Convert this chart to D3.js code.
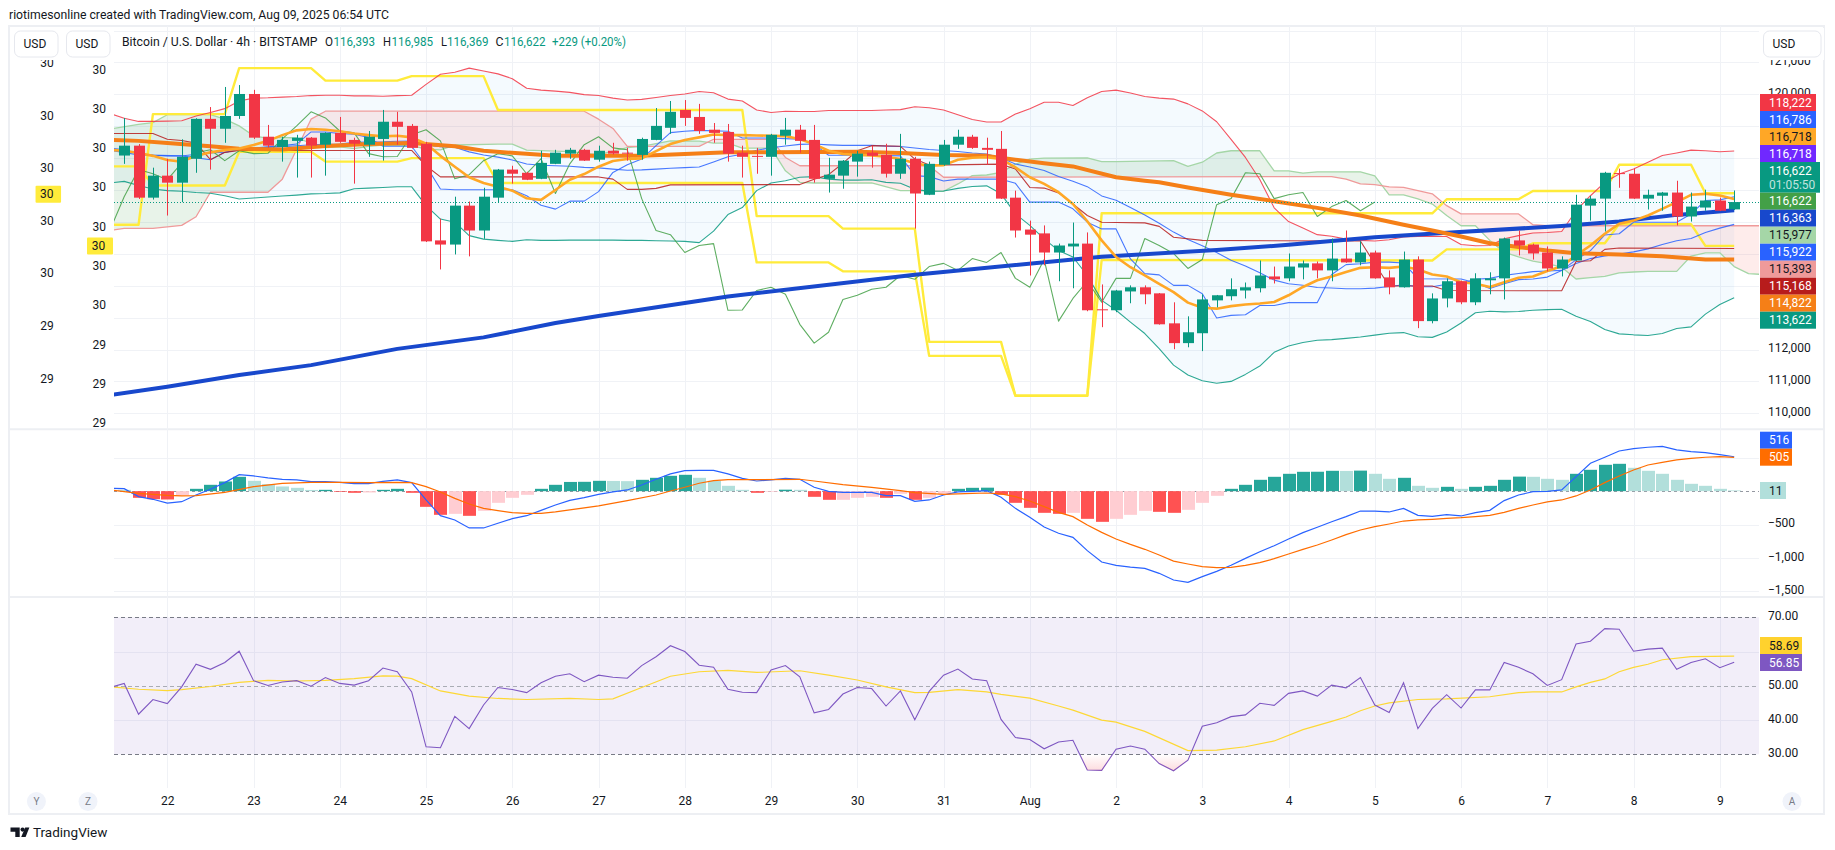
<!DOCTYPE html>
<html>
<head>
<meta charset="utf-8">
<title>Bitcoin / U.S. Dollar 4h</title>
<script src="https://cdn.jsdelivr.net/npm/d3@7"></script>
<style>
  html, body { margin: 0; padding: 0; background: #fff; }
  svg { display: block; }
  text { font-family: "Roboto", "Noto Sans", sans-serif; fill: #131722; }
</style>
</head>
<body>
<div id="chart"></div>
<script>
// ---------- Price candles, one entry per 4h bar (21 Jul 12:00 to 9 Aug 04:00) ----------
const opens = [118080,118390,116760,117450,117230,117980,119230,118920,119320,120010,118670,118350,118540,118640,118420,118790,118570,118420,118600,119140,119010,118450,115420,115290,116510,115730,116760,117640,117540,117350,117820,118140,118260,117950,118230,118170,118100,118570,118950,119510,119290,118890,118820,118170,118070,118040,118700,118890,118570,117350,117450,117890,118170,118100,117510,117980,116850,117790,118420,118670,118320,118290,116760,115760,115640,115040,115230,115320,113260,113230,113820,113950,113760,112820,112200,112510,113540,113670,113850,113920,114290,114230,114570,114700,114480,114850,114730,115040,114260,113950,114820,112890,113600,114140,113480,114170,114230,115420,115290,115040,114540,114790,116510,116730,117530,117510,116730,116820,116920,116170,116450,116670,116393];
const highs = [119260,118440,117700,117980,118590,119250,119600,120230,120290,120140,119040,118670,118730,118660,118810,119290,118640,118850,119510,119450,119070,118510,116100,116790,116640,117070,117660,117760,117570,118230,118260,118320,118290,118390,118480,118320,118640,119570,119790,119820,119700,119100,119070,118390,118320,118760,119260,119040,119040,118010,117940,118230,118390,118450,118760,118040,117890,118570,118890,118730,118640,118850,116980,116040,115890,115320,115980,115670,114040,113870,114010,114010,113770,113480,113040,113730,113710,114230,114100,114790,114600,115010,114790,114760,115480,115730,115390,115100,114480,115070,114920,113760,114230,114160,114390,114420,115510,115730,115320,115230,114920,116850,116820,117570,117670,117670,117010,116940,117290,116920,117010,116760,116985];
const lows = [117820,116720,116700,116200,116620,117540,117640,118480,119230,118600,118330,117890,117390,117390,117450,118480,117200,118040,117920,118420,118300,115370,114510,114980,114920,115470,116620,117200,117310,117340,117810,117980,117910,117890,118110,117920,117950,118560,118760,119010,118760,118480,117890,117390,117510,117450,118420,118170,117230,116920,117040,117420,117700,117390,117350,115790,116840,117760,118290,118290,117790,116720,115510,114320,114640,114140,113920,113200,112700,113170,113450,113420,112780,112010,112070,111950,113320,113540,113600,113790,114070,114140,114200,114230,114140,114720,114640,114220,113730,113940,112670,112820,113320,113420,113390,113730,113570,114950,114820,114450,114290,114780,116040,115700,117070,116720,116390,116350,115890,116010,116350,116340,116369];
const closes = [118390,116760,117450,117230,118040,119230,118920,119320,120010,118640,118390,118570,118640,118390,118790,118510,118450,118670,119140,118980,118320,115390,115290,116510,115730,116790,117640,117510,117320,117850,118170,118260,117920,118230,118140,118150,118600,119010,119450,119260,118850,118790,118140,118040,118050,118730,118890,118540,117350,117480,117920,118140,118070,117510,117980,116890,117820,118420,118670,118320,118260,116730,115730,115600,115040,115260,115320,113230,113240,113850,113950,113730,112790,112200,112540,113570,113700,113890,113950,114320,114200,114600,114700,114480,114850,114730,115040,114230,113950,114820,112890,113600,114140,113480,114230,114230,115480,115260,115010,114540,114820,116540,116730,117540,117510,116730,116850,116920,116170,116480,116670,116350,116622];

// ---------- Overlays on the price pane. Full arrays begin one bar before the first candle ----------
const bbUpper = [119400,119250,119150,119150,119160,119170,119320,119430,119550,119790,119880,119890,119910,119930,119960,119970,119970,119950,119950,119940,119960,119970,120310,120630,120690,120820,120730,120640,120490,120190,120130,120100,120060,119990,119960,119880,119820,119840,119900,119960,120010,120090,120050,119850,119790,119510,119430,119470,119460,119460,119490,119490,119490,119490,119510,119520,119610,119580,119510,119360,119210,119130,119130,119380,119550,119750,119750,119650,119890,120090,120130,120040,119930,119880,119850,119700,119480,119140,118590,118020,117330,116440,116010,115810,115600,115550,115460,115420,115400,115440,115530,115540,115550,115540,115290,115250,115260,115470,115570,115650,115670,115700,116350,116820,117240,117500,117660,117870,118080,118160,118250,118230,118200,118222];
const bbLower = [117220,117270,117140,117030,116980,116960,116920,116900,116820,116720,116750,116780,116810,116840,116880,116890,116910,117040,117060,117080,117100,117100,116510,116090,115990,115570,115460,115420,115390,115440,115420,115420,115430,115430,115430,115430,115420,115420,115410,115400,115390,115350,115710,116230,116450,116980,117220,117290,117400,117420,117340,117310,117310,117320,117240,117210,117020,116960,116970,117050,117110,117130,116880,116250,115890,115470,115100,114900,114320,113540,113230,112860,112500,112030,111510,111200,111020,110940,111000,111220,111480,111910,112110,112220,112290,112310,112350,112390,112450,112510,112530,112400,112380,112550,112830,113150,113200,113180,113190,113230,113250,113260,113040,112880,112630,112490,112460,112440,112500,112660,112710,113110,113410,113622];
const bbBasis = [118310,118260,118145,118090,118070,118065,118120,118165,118185,118255,118315,118335,118360,118385,118420,118430,118440,118495,118505,118510,118530,118535,118410,118360,118340,118195,118095,118030,117940,117815,117775,117760,117745,117710,117695,117655,117620,117630,117655,117680,117700,117720,117880,118040,118120,118245,118325,118380,118430,118440,118415,118400,118400,118405,118375,118365,118315,118270,118240,118205,118160,118130,118005,117815,117720,117610,117425,117275,117105,116815,116680,116450,116215,115955,115680,115450,115250,115040,114795,114620,114405,114175,114060,114015,113945,113930,113905,113905,113925,113975,114030,113970,113965,114045,114060,114200,114230,114325,114380,114440,114460,114480,114695,114850,114935,114995,115060,115155,115290,115410,115480,115670,115805,115922];
const emaFast = [118260,118230,118160,118070,117940,117890,118070,118180,118250,118300,118410,118540,118720,118870,118910,118890,118840,118770,118720,118680,118700,118650,118450,118070,117730,117400,117220,117100,116980,116740,116690,117000,117320,117500,117730,117910,117970,117990,118220,118440,118570,118650,118740,118720,118720,118710,118700,118690,118590,118440,118230,118130,118100,118080,118040,117970,117840,117760,117780,117950,118010,118030,117970,117710,117400,117190,116930,116560,116020,115420,114900,114580,114320,114060,113800,113470,113310,113280,113360,113410,113440,113490,113700,113960,114170,114290,114430,114560,114580,114560,114600,114510,114350,114290,114110,114060,113960,114110,114250,114290,114460,114610,114950,115260,115630,115940,116040,116200,116410,116620,116850,116880,116830,116718];

// Vertex lists for the slower or stepped overlays: [bar, price]
const emaMid = [[-1,118570],[1,118540],[3,118470],[6,118370],[8,118290],[11,118270],[14,118380],[17,118440],[20,118470],[23,118370],[25,118230],[30,118070],[36,118070],[39,118130],[42,118180],[45,118180],[51,118200],[54,118160],[57,118100],[60,118070],[62,117950],[64,117840],[66,117740],[69,117400],[71,117290],[72,117240],[74,117080],[77,116850],[80,116650],[83,116440],[86,116200],[89,115910],[91,115730],[93,115540],[95,115330],[97,115210],[99,115100],[101,115020],[104,114980],[107,114920],[110,114820],[112,114822]];
const emaSlow = [[-1,110570],[3,110830],[8,111200],[13,111510],[19,112020],[25,112380],[30,112830],[33,113050],[42,113660],[55,114340],[68,114910],[76,115120],[81,115280],[87,115520],[92,115660],[100,115870],[104,116010],[108,116220],[112,116363]];
const tenkan = [[-1,118250],[1,118100],[4,118070],[6,117950],[7,118180],[8,118280],[11,118390],[12,118440],[13,118820],[14,118820],[15,118770],[16,118750],[17,118650],[18,118370],[20,118370],[21,117760],[22,117030],[23,117010],[27,117010],[28,116820],[29,116520],[30,116400],[31,116650],[32,116650],[33,116950],[34,117550],[35,117790],[36,117970],[37,118390],[38,118800],[39,118840],[40,118870],[42,118840],[43,118630],[45,118630],[46,118610],[47,118590],[48,118440],[49,118090],[52,118090],[54,118070],[55,117450],[56,117420],[57,117280],[58,117340],[61,117340],[62,117210],[63,116620],[65,116620],[66,116410],[67,115990],[68,115780],[69,115780],[70,114840],[71,114380],[72,114340],[73,114010],[74,114010],[75,113750],[76,112990],[77,113070],[78,113090],[79,113380],[80,113380],[81,113470],[83,113470],[84,114350],[85,114660],[86,114690],[87,114740],[88,114740],[89,114710],[90,114220],[93,114210],[94,114090],[95,113910],[96,114060],[97,114190],[98,114210],[99,114270],[100,114480],[101,114810],[102,115100],[103,115590],[104,115630],[105,115990],[108,115990],[109,116250],[110,116670],[111,116690],[112,116786]];
const kijun = [[-1,118770],[2,118770],[3,118590],[4,118550],[5,118470],[6,117950],[7,118180],[8,118240],[20,118240],[21,117760],[22,117410],[33,117410],[34,117340],[35,117020],[36,117020],[37,117050],[38,117160],[47,117170],[48,117340],[49,117480],[50,117840],[51,118230],[52,118390],[54,118370],[55,117970],[56,117780],[61,117810],[62,117660],[63,117080],[64,117060],[65,116910],[66,116560],[67,116200],[68,115990],[69,115980],[71,115970],[72,115860],[73,115520],[75,115420],[86,115400],[87,114690],[88,113990],[91,113990],[92,113850],[100,113840],[101,114760],[102,114780],[103,115140],[104,115180],[112,115168]];
const spanA = [[-1,118910],[1,119060],[2,119110],[3,119360],[6,119360],[7,119220],[8,119010],[9,118700],[10,118620],[11,118650],[12,118630],[13,118470],[14,118330],[15,118350],[16,118300],[17,118370],[18,118410],[20,118390],[21,118280],[22,118260],[23,118410],[26,118440],[27,118440],[28,118250],[31,118200],[33,118110],[35,118330],[36,118370],[38,118540],[40,118530],[41,118470],[42,118470],[43,118310],[45,118310],[46,117600],[47,117240],[48,117220],[52,117220],[54,116980],[55,116980],[57,116960],[58,117190],[59,117450],[60,117470],[61,117550],[62,117810],[63,117970],[64,118000],[67,118010],[68,117890],[69,117890],[73,117920],[74,117740],[75,117870],[76,118160],[77,118230],[79,118230],[80,117600],[81,117600],[82,117530],[83,117570],[86,117570],[87,117440],[88,116850],[89,116850],[90,116720],[91,116560],[92,116200],[93,115880],[94,115880],[95,115420],[96,115050],[97,114900],[98,114770],[99,114690],[100,114580],[101,114210],[102,114250],[103,114290],[104,114400],[105,114430],[106,114450],[108,114450],[109,114930],[110,115030],[111,115030],[112,114600],[113,114380],[114,114350]];
const spanB = [[-1,115730],[0,115800],[2,115800],[4,115890],[5,116160],[6,116930],[10,116930],[11,117340],[12,118280],[13,119220],[14,119470],[32,119470],[33,119220],[34,118930],[35,118370],[40,118370],[41,118590],[45,118590],[46,118020],[47,117760],[56,117760],[57,117400],[84,117420],[85,117340],[86,117190],[87,117170],[88,117100],[89,117080],[90,116980],[91,116880],[92,116510],[93,116250],[97,116250],[98,115910],[99,115880],[114,115880]];
const channelUpper = [[-1,115910],[1,115910],[2,119380],[7,119380],[8,120820],[13,120820],[14,120430],[19,120430],[20,120570],[25,120570],[26,119510],[43,119510],[44,116180],[49,116180],[50,115790],[55,115790],[56,112240],[61,112240],[62,110550],[67,110550],[68,116270],[91,116270],[92,116710],[97,116710],[98,116970],[103,116970],[104,117790],[109,117790],[110,116900],[112,116900]];
const channelLower = [[-1,117740],[1,117740],[2,117140],[7,117140],[8,118200],[13,118200],[14,117890],[19,117890],[20,118000],[25,118000],[26,117220],[43,117220],[44,114730],[49,114730],[50,114450],[55,114450],[56,111800],[61,111800],[62,110550],[67,110550],[68,114810],[91,114790],[92,115140],[97,115140],[98,115330],[103,115330],[104,115930],[109,115930],[110,115250],[112,115250]];
const laggingShift = 25;

// ---------- MACD pane ----------
const macdLine = [42,38,-82,-122,-178,-158,-58,28,128,248,228,198,178,168,142,142,132,112,112,148,168,128,-132,-368,-432,-552,-552,-482,-412,-368,-288,-208,-138,-98,-48,-12,18,92,178,258,308,312,312,258,192,152,168,192,178,58,-2,-18,-18,-18,-68,-68,-152,-132,-58,-12,-2,8,-92,-258,-392,-538,-632,-692,-892,-1062,-1112,-1138,-1158,-1232,-1332,-1368,-1282,-1202,-1112,-1008,-908,-818,-718,-622,-542,-458,-382,-298,-298,-312,-258,-362,-378,-352,-372,-322,-288,-142,-58,-8,-2,18,218,418,508,602,638,658,672,618,592,578,548,516];
const macdSignal = [[-1,18],[1,-32],[3,-62],[4,-72],[5,-68],[7,-18],[9,68],[11,118],[13,132],[15,132],[17,128],[19,132],[20,128],[21,68],[22,-12],[23,-108],[24,-192],[25,-258],[26,-292],[27,-322],[28,-332],[29,-332],[30,-312],[31,-282],[33,-222],[35,-142],[37,-58],[38,2],[39,58],[40,118],[41,158],[42,172],[44,172],[47,178],[48,152],[50,98],[52,58],[54,8],[55,-22],[57,-48],[59,-32],[60,-28],[61,-42],[62,-82],[63,-148],[64,-232],[65,-318],[66,-382],[67,-508],[68,-618],[69,-718],[70,-798],[71,-872],[72,-958],[73,-1048],[74,-1092],[75,-1132],[76,-1148],[77,-1142],[78,-1112],[79,-1072],[80,-1012],[81,-942],[82,-872],[83,-808],[84,-732],[85,-652],[86,-582],[87,-532],[88,-492],[89,-448],[90,-432],[91,-422],[92,-408],[93,-398],[94,-382],[95,-362],[96,-318],[97,-258],[98,-208],[99,-162],[100,-132],[101,-72],[102,18],[103,128],[104,228],[105,318],[106,392],[107,432],[108,468],[109,492],[110,508],[111,518],[112,505]];
const macdHist = [20,-100,-120,-125,-60,35,95,145,215,155,105,70,50,18,20,-10,-25,-20,20,35,-25,-235,-355,-340,-370,-295,-175,-100,-55,35,95,138,140,155,153,150,170,200,230,245,200,155,80,20,-25,-10,22,20,-85,-130,-130,-100,-85,-100,-40,-130,-100,-40,35,50,52,-55,-175,-250,-325,-340,-325,-415,-460,-415,-355,-295,-310,-325,-280,-175,-70,35,95,170,215,260,290,291,305,303,308,260,185,200,80,50,65,35,65,80,170,218,215,185,170,260,320,395,410,350,305,260,170,110,80,35,11];

// ---------- RSI pane ----------
const rsiLine = [49.5,50.7,41.7,46.0,44.8,49.7,56.3,54.8,56.8,60.1,51.5,50.1,51.1,51.5,49.9,52.4,50.7,50.2,51.5,55.2,54.1,48.2,32.2,31.9,41.1,37.5,44.4,49.5,48.9,48.0,50.9,52.8,53.5,51.2,53.1,52.5,52.2,55.9,58.5,61.7,60.0,56.0,55.4,49.0,48.1,48.0,54.6,55.9,52.6,42.1,43.1,47.6,49.5,49.2,44.1,48.5,40.1,48.4,53.1,54.9,52.0,51.5,40.2,34.9,34.3,31.6,33.6,34.1,25.4,25.3,31.5,32.4,31.5,27.3,25.2,28.3,38.2,39.2,41.0,41.5,44.9,44.3,47.8,48.5,47.0,50.2,49.4,52.4,44.4,42.2,50.9,37.5,43.4,47.4,43.5,48.8,48.8,56.8,55.4,53.5,50.1,51.8,62.2,63.0,66.7,66.5,60.1,60.7,61.0,54.8,56.8,57.9,55.3,56.85];
const rsiAverage = [[-1,49.7],[1,49.0],[3,48.6],[4,48.9],[6,49.8],[8,51.0],[10,51.6],[12,51.4],[14,51.6],[16,52.1],[18,52.9],[19,52.8],[20,52.1],[22,48.5],[24,47.0],[26,46.3],[28,46.0],[31,46.3],[33,46.0],[34,46.2],[36,49.5],[38,52.8],[40,54.1],[42,54.5],[44,53.9],[47,54.4],[49,53.1],[51,51.7],[53,49.7],[55,48.0],[56,48.1],[58,48.9],[60,48.2],[61,47.5],[63,46.4],[65,44.1],[66,42.9],[68,40.0],[69,39.4],[71,36.7],[74,31.1],[76,31.2],[78,32.2],[80,33.9],[82,37.2],[84,39.6],[85,40.9],[86,42.7],[87,44.1],[88,45.0],[90,46.0],[92,46.2],[95,46.8],[97,48.0],[98,48.2],[100,48.2],[101,49.7],[102,51.0],[103,52.0],[104,54.1],[105,55.4],[106,56.3],[107,57.6],[109,58.5],[112,58.69]];

// ---------- Axis content and tags ----------
const dayLabels = ["22","23","24","25","26","27","28","29","30","31","Aug","2","3","4","5","6","7","8","9"];
const priceGrid = [110000,111000,112000,113000,114000,115000,116000,117000,118000,119000,120000,121000,122000];
const priceLabels = [110000,111000,112000,120000,121000];
const macdGrid = [500,-500,-1000,-1500];
const macdLabels = [-500,-1000,-1500];
const rsiGrid = [60,40];
const rsiLabels = [70,50,40,30];
const leftOuterTicks = [29.9,29.8,29.7,29.6,29.5,29.4,29.3];
const leftInnerTicks = [30.1,30,29.9,29.8,29.7,29.6,29.5,29.4,29.3,29.2];
const leftMarker = 29.65;
const priceTagValues = [118222,116786,116718,116718,116622,116622,116363,115977,115922,115393,115168,114822,113622];
const priceTagFills = ["#f23645","#2962ff","#ffa726","#7028ff","#089981","#43a047","#1848cc","#a5d6a7","#2962ff","#ef9a9a","#b71c1c","#f57f17","#089981"];
const priceTagInk = ["#fff","#fff","#131722","#fff","#fff","#fff","#fff","#131722","#fff","#131722","#fff","#fff","#fff"];

// ---------- Layout ----------
const W = 1835, H = 850;
const L = 114, R = 1759;
const panes = { top: 26, main: 429.3, macd: 597, bottom: 814, timeAxis: 788 };
const labelSize = 12;

const svg = d3.select("#chart").append("svg").attr("width", W).attr("height", H);

// Bar 3 is the midnight of day 22, bars are 14.375 px apart
const xBar = d3.scaleLinear().domain([3, 111]).range([167.3, 1719.8]);
const xPx = i => Math.round(xBar(i)) + 0.5;
const yPrice = d3.scaleLinear().domain([110000, 120000]).range([413.3, 94.3]);
const yMacd = d3.scaleLinear().domain([500, -1500]).range([457.8, 591.2]);
const yRsi = d3.scaleLinear().domain([70, 30]).range([617.3, 754.3]);
const yOuter = d3.scaleLinear().domain([29.9, 29.3]).range([62.6, 378.3]);
const yInner = d3.scaleLinear().domain([30.1, 29.2]).range([69.3, 422.7]);

const defs = svg.append("defs");
const clipRect = (id, y, h) => defs.append("clipPath").attr("id", id).append("rect")
  .attr("x", L).attr("y", y).attr("width", R - L).attr("height", h);
clipRect("clip-main", panes.top, panes.main - panes.top);
clipRect("clip-macd", panes.main, panes.macd - panes.main);
clipRect("clip-rsi", panes.macd, panes.timeAxis - panes.macd);
clipRect("clip-oversold", yRsi(30), 60);
const grad = defs.append("linearGradient").attr("id", "oversold-fill")
  .attr("gradientUnits", "userSpaceOnUse")
  .attr("x1", 0).attr("x2", 0).attr("y1", yRsi(30)).attr("y2", yRsi(24));
grad.append("stop").attr("offset", 0).attr("stop-color", "#f23645").attr("stop-opacity", 0);
grad.append("stop").attr("offset", 1).attr("stop-color", "#f23645").attr("stop-opacity", 0.22);

const barsFromLead = values => values.map((v, k) => [k - 1, v]);

// ---------- Frame ----------
const frame = svg.append("g").attr("fill", "none").attr("stroke", "#edeff3").attr("stroke-width", 2);
frame.append("rect").attr("x", 9).attr("y", panes.top).attr("width", 1815).attr("height", panes.bottom - panes.top);
frame.append("line").attr("x1", 9).attr("x2", 1824).attr("y1", panes.main).attr("y2", panes.main);
frame.append("line").attr("x1", 9).attr("x2", 1824).attr("y1", panes.macd).attr("y2", panes.macd);

// ---------- Grid ----------
const grid = svg.append("g").attr("stroke", "#f0f2f6").attr("stroke-width", 1);
dayLabels.forEach((_, k) => {
  const x = xPx(3 + k * 6);
  grid.append("line").attr("x1", x).attr("x2", x).attr("y1", panes.top).attr("y2", panes.timeAxis);
});
[[priceGrid, yPrice], [macdGrid, yMacd], [rsiGrid, yRsi]].forEach(([ticks, scale]) => {
  ticks.forEach(t => {
    const y = Math.round(scale(t)) + 0.5;
    grid.append("line").attr("x1", L).attr("x2", R).attr("y1", y).attr("y2", y);
  });
});

// ---------- Price pane overlays ----------
const main = svg.append("g").attr("clip-path", "url(#clip-main)");
const priceLine = d3.line().x(d => xBar(d[0])).y(d => yPrice(d[1]));

// Bollinger band fill
main.append("path")
  .datum(barsFromLead(bbUpper).map((d, k) => [d[0], d[1], bbLower[k]]))
  .attr("fill", "#2196f3").attr("fill-opacity", 0.05)
  .attr("d", d3.area().x(d => xBar(d[0])).y0(d => yPrice(d[2])).y1(d => yPrice(d[1])));

// Cloud between the two spans, split at each crossing so the colours change on the spot
const knotScale = knots => d3.scaleLinear(knots.map(d => d[0]), knots.map(d => d[1]));
const spanAAt = knotScale(spanA), spanBAt = knotScale(spanB);
const cloud = [];
d3.range(-1, 115).forEach(i => {
  const a = spanAAt(i), b = spanBAt(i);
  if (i > -1) {
    const pa = spanAAt(i - 1), pb = spanBAt(i - 1);
    if ((pa - pb) * (a - b) < 0) {
      const t = (pb - pa) / ((a - pa) - (b - pb));
      const v = pa + t * (a - pa);
      cloud.push([i - 1 + t, v, v]);
    }
  }
  cloud.push([i, a, b]);
});
main.append("path").datum(cloud).attr("fill", "#43a047").attr("fill-opacity", 0.12)
  .attr("d", d3.area().x(d => xBar(d[0])).y0(d => yPrice(d[2])).y1(d => yPrice(Math.max(d[1], d[2]))));
main.append("path").datum(cloud).attr("fill", "#f44336").attr("fill-opacity", 0.1)
  .attr("d", d3.area().x(d => xBar(d[0])).y0(d => yPrice(Math.max(d[1], d[2]))).y1(d => yPrice(d[1])));

const drawPriceLine = (data, colour, width, opacity = 1) =>
  main.append("path").datum(data).attr("fill", "none").attr("stroke", colour)
    .attr("stroke-width", width).attr("stroke-opacity", opacity)
    .attr("stroke-linejoin", "round").attr("d", priceLine);

drawPriceLine(spanA, "#a5d6a7", 1.3);
drawPriceLine(spanB, "#ef9a9a", 1.3);
drawPriceLine(channelUpper, "#ffeb3b", 2.4);
drawPriceLine(channelLower, "#ffeb3b", 2.4);
drawPriceLine(barsFromLead(bbUpper), "#f23645", 1.1, 0.85);
drawPriceLine(barsFromLead(bbLower), "#089981", 1.1, 0.85);
drawPriceLine(barsFromLead(bbBasis), "#2962ff", 1.1, 0.85);
drawPriceLine(tenkan, "#2962ff", 1.1, 0.85);
drawPriceLine(kijun, "#b71c1c", 1.1, 0.85);

// Lagging span: the closes drawn a fixed number of bars to the left
const lagging = closes.map((c, k) => [k - laggingShift, c]).filter(d => d[0] >= -1);
drawPriceLine(lagging, "#43a047", 1.1, 0.85);

drawPriceLine(emaSlow, "#1848cc", 4);
drawPriceLine(emaMid, "#f57f17", 4);
drawPriceLine(barsFromLead(emaFast), "#ffa726", 2.6);

// Last price marker line
const lastY = Math.round(yPrice(closes[closes.length - 1])) + 0.5;
svg.append("line").attr("x1", L).attr("x2", R).attr("y1", lastY).attr("y2", lastY)
  .attr("stroke", "#089981").attr("stroke-width", 1).attr("stroke-dasharray", "1 2");

// ---------- Candles ----------
const candles = svg.append("g").selectAll("g").data(opens.map((o, k) => ({ k, o, h: highs[k], l: lows[k], c: closes[k] })))
  .join("g").attr("fill", d => d.c >= d.o ? "#089981" : "#f23645");
candles.append("rect").attr("x", d => xPx(d.k) - 0.5).attr("width", 1)
  .attr("y", d => yPrice(d.h)).attr("height", d => yPrice(d.l) - yPrice(d.h));
candles.append("rect").attr("x", d => xPx(d.k) - 5.5).attr("width", 11)
  .attr("y", d => yPrice(Math.max(d.o, d.c)))
  .attr("height", d => Math.max(1, Math.abs(yPrice(d.o) - yPrice(d.c))));

// ---------- MACD pane ----------
const macdPane = svg.append("g").attr("clip-path", "url(#clip-macd)");
const zeroY = Math.round(yMacd(0)) + 0.5;
macdPane.append("line").attr("x1", L).attr("x2", R).attr("y1", zeroY).attr("y2", zeroY)
  .attr("stroke", "#9598a1").attr("stroke-width", 1).attr("stroke-dasharray", "3 3");
macdPane.append("g").selectAll("rect").data(macdHist).join("rect")
  .attr("x", (d, k) => xPx(k) - 6.5).attr("width", 13)
  .attr("y", d => Math.min(yMacd(d), yMacd(0)))
  .attr("height", d => Math.abs(yMacd(d) - yMacd(0)))
  .attr("fill", (d, k) => {
    const prev = k ? macdHist[k - 1] : d;
    if (d >= 0) return d > prev ? "#26a69a" : "#b2dfdb";
    return d < prev ? "#ff5252" : "#ffcdd2";
  });
const macdPath = d3.line().x(d => xBar(d[0])).y(d => yMacd(d[1]));
macdPane.append("path").datum(barsFromLead(macdLine)).attr("fill", "none").attr("stroke", "#2962ff")
  .attr("stroke-width", 1.2).attr("d", macdPath);
macdPane.append("path").datum(macdSignal).attr("fill", "none").attr("stroke", "#ff6d00")
  .attr("stroke-width", 1.2).attr("d", macdPath);

// ---------- RSI pane ----------
const rsiPane = svg.append("g").attr("clip-path", "url(#clip-rsi)");
rsiPane.append("rect").attr("x", L).attr("width", R - L)
  .attr("y", yRsi(70)).attr("height", yRsi(30) - yRsi(70))
  .attr("fill", "#7e57c2").attr("fill-opacity", 0.1);
[[70, "#787b86"], [50, "#a9acb4"], [30, "#787b86"]].forEach(([t, c]) => {
  const y = Math.round(yRsi(t)) + 0.5;
  rsiPane.append("line").attr("x1", L).attr("x2", R).attr("y1", y).attr("y2", y)
    .attr("stroke", c).attr("stroke-width", 1).attr("stroke-dasharray", "4 3");
});
svg.append("path").datum(barsFromLead(rsiLine))
  .attr("fill", "url(#oversold-fill)").attr("clip-path", "url(#clip-oversold)")
  .attr("d", d3.area().x(d => xBar(d[0])).y0(yRsi(30)).y1(d => yRsi(d[1])));
const rsiPath = d3.line().x(d => xBar(d[0])).y(d => yRsi(d[1]));
rsiPane.append("path").datum(rsiAverage).attr("fill", "none").attr("stroke", "#fdd835")
  .attr("stroke-width", 1.2).attr("d", rsiPath);
rsiPane.append("path").datum(barsFromLead(rsiLine)).attr("fill", "none").attr("stroke", "#7e57c2")
  .attr("stroke-width", 1.1).attr("d", rsiPath);

// ---------- Axes ----------
const styleAxis = g => {
  g.select(".domain").remove();
  g.selectAll("text").attr("font-size", labelSize).attr("font-family", null);
};
const rightAxis = (scale, ticks, format) =>
  svg.append("g").attr("transform", `translate(${R},-1.5)`)
    .call(d3.axisRight(scale).tickValues(ticks).tickSize(0).tickPadding(9).tickFormat(format))
    .call(styleAxis);
rightAxis(yPrice, priceLabels, d3.format(","));
rightAxis(yMacd, macdLabels, d3.format(","));
rightAxis(yRsi, rsiLabels, d3.format(".2f"));

svg.append("g").attr("transform", "translate(0,801)")
  .call(d3.axisBottom(xBar).tickValues(dayLabels.map((_, k) => 3 + k * 6)).tickSize(0).tickPadding(0)
    .tickFormat((_, k) => dayLabels[k]))
  .call(styleAxis)
  .selectAll("text").attr("dy", "0.32em");

// Left hand scales: the centred tick labels round to whole numbers
const leftAxis = (scale, ticks, cx) => {
  svg.append("g").attr("transform", `translate(${cx + 7},0)`)
    .call(d3.axisLeft(scale).tickValues(ticks).tickSize(0).tickPadding(0).tickFormat(d3.format(".0f")))
    .call(styleAxis);
};
leftAxis(yOuter, leftOuterTicks, 46.7);
leftAxis(yInner, leftInnerTicks, 99);

const marker = (scale, cx, w) => {
  const y = scale(leftMarker);
  svg.append("rect").attr("x", cx - w / 2).attr("y", y - 8.5).attr("width", w).attr("height", 17).attr("fill", "#ffeb3b").attr("rx", 1);
  svg.append("text").attr("x", cx - 1.5).attr("y", y).attr("dy", "0.35em").attr("text-anchor", "middle")
    .attr("font-size", labelSize).text(d3.format(".0f")(leftMarker));
};
marker(yOuter, 48.3, 25.5);
marker(yInner, 100, 26);

// ---------- Value tags on the right ----------
const tag = (x, y, w, h, fill, ink, label, sub) => {
  svg.append("rect").attr("x", x).attr("y", y).attr("width", w).attr("height", h).attr("fill", fill);
  svg.append("text").attr("x", x + 9).attr("y", y + 8.5).attr("dy", "0.35em")
    .attr("font-size", labelSize).style("fill", ink).text(label);
  if (sub) svg.append("text").attr("x", x + 9).attr("y", y + 22.5).attr("dy", "0.35em")
    .attr("font-size", labelSize).style("fill", ink).style("fill-opacity", 0.75).text(sub);
};
let tagY = 94;
priceTagValues.forEach((v, k) => {
  const twoLine = k === 4;
  const h = twoLine ? 30.7 : 17;
  tag(1760, tagY, twoLine ? 60 : 56, h, priceTagFills[k], priceTagInk[k], d3.format(",")(v), twoLine ? "01:05:50" : null);
  tagY += h;
});
tag(1760, 431.7, 32, 17, "#2962ff", "#fff", d3.format(",")(macdLine[macdLine.length - 1]));
tag(1760, 448.7, 32, 17, "#ff6d00", "#fff", d3.format(",")(macdSignal[macdSignal.length - 1][1]));
tag(1760, 482, 26, 17, "#b2dfdb", "#131722", d3.format(",")(macdHist[macdHist.length - 1]));
tag(1760, 637, 42, 17, "#ffd22e", "#131722", d3.format(".2f")(rsiAverage[rsiAverage.length - 1][1]));
tag(1760, 654, 42, 17, "#7e57c2", "#fff", d3.format(".2f")(rsiLine[rsiLine.length - 1]));

// ---------- Buttons: a white margin round each one masks the labels running under it ----------
const usdButton = (x, y, w, h) => {
  svg.append("rect").attr("x", x - 3).attr("y", y - 3).attr("width", w + 6).attr("height", h + 6)
    .attr("fill", "#fff");
  svg.append("rect").attr("x", x).attr("y", y).attr("width", w).attr("height", h).attr("rx", 6)
    .attr("fill", "#fff").attr("stroke", "#e6e8ee").attr("stroke-width", 1);
  svg.append("text").attr("x", x + 9).attr("y", y + h / 2).attr("dy", "0.35em").attr("font-size", labelSize).text("USD");
};
usdButton(14.5, 31, 43.5, 26);
usdButton(66.5, 31, 43.5, 26);
usdButton(1763.5, 31, 57.5, 26);

const roundBadge = (cx, label) => {
  svg.append("circle").attr("cx", cx).attr("cy", 801.5).attr("r", 9.5).attr("fill", "#f0f3fa");
  svg.append("text").attr("x", cx).attr("y", 801.5).attr("dy", "0.35em").attr("text-anchor", "middle")
    .attr("font-size", 10).style("fill", "#787b86").text(label);
};
roundBadge(36.4, "Y");
roundBadge(88, "Z");
roundBadge(1792, "A");

// ---------- Titles ----------
svg.append("text").attr("x", 9).attr("y", 19).attr("font-size", 12.5)
  .attr("textLength", 380).attr("lengthAdjust", "spacingAndGlyphs")
  .text("riotimesonline created with TradingView.com, Aug 09, 2025 06:54 UTC");

const upInk = "#089981";
const last = opens.length - 1;
const legendPiece = (x, width, label, ink) => svg.append("text").attr("x", x).attr("y", 46)
  .attr("font-size", 12.5).attr("textLength", width).attr("lengthAdjust", "spacingAndGlyphs")
  .style("fill", ink || "#131722").text(label);
legendPiece(122, 195.5, "Bitcoin / U.S. Dollar · 4h · BITSTAMP");
[["O", opens[last], 325], ["H", highs[last], 383], ["L", lows[last], 441], ["C", closes[last], 495.5]].forEach(([k, v, x]) => {
  const keyWidth = k === "L" ? 6 : 8;
  legendPiece(x, keyWidth, k);
  legendPiece(x + keyWidth + (k === "L" ? 0 : 0.5), 41.5, d3.format(",")(v), upInk);
});
legendPiece(552, 74, "+229 (+0.20%)", upInk);

// ---------- Logo ----------
const logo = svg.append("g").attr("fill", "#131722");
logo.append("path").attr("d", "M10.5 827.5h9.2v9.5h-4.4v-5.2h-4.8z");
logo.append("circle").attr("cx", 22.6).attr("cy", 829.6).attr("r", 2.1);
logo.append("path").attr("d", "M25.2 827.5h4.2l-3.8 9.5h-4.4z");
svg.append("text").attr("x", 33).attr("y", 837).attr("font-size", 13.5).text("TradingView");
</script>
</body>
</html>
